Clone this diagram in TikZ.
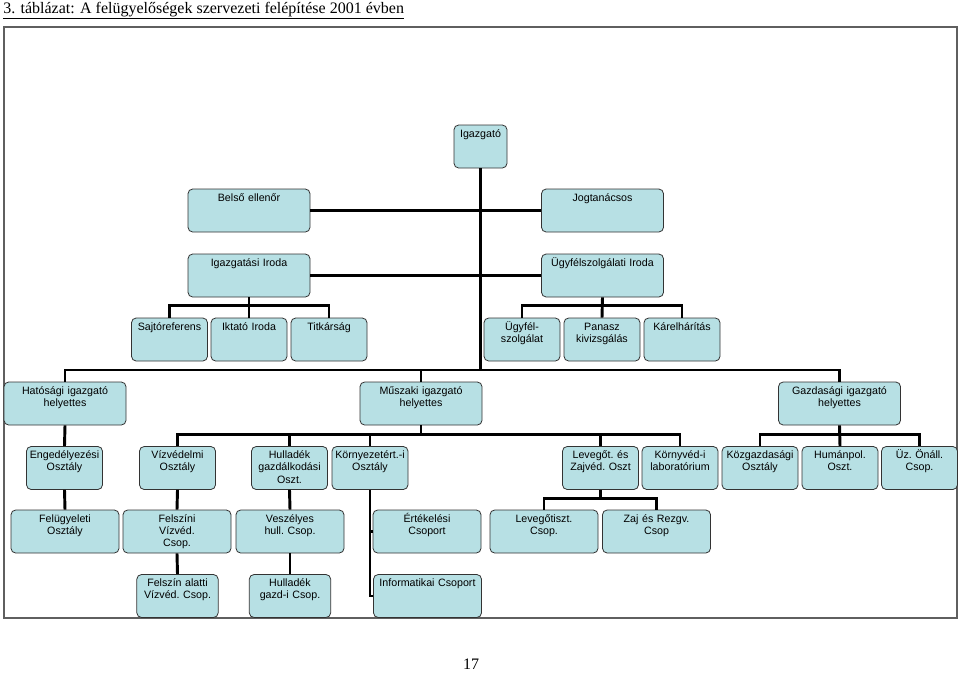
\documentclass[tikz,border=0pt]{standalone}
\usepackage{fontspec}
\setmainfont{Liberation Sans}
\newfontfamily\timesfont{Liberation Serif}
\usepackage{xcolor}
\definecolor{BoxBlue}{RGB}{183,224,228}
\definecolor{FrameGray}{RGB}{95,95,95}
\tikzset{
  unit/.style={draw=black!80, fill=BoxBlue, rounded corners=3.5pt, line width=0.6pt,
    align=center, inner xsep=1pt, inner ysep=2pt, text height=7pt, text depth=21.25pt,
    font=\fontsize{8}{9.2}\selectfont\frenchspacing},
  topbox/.style={unit, text width=37.75pt},
  widebox/.style={unit, text width=89.5pt},
  smallbox/.style={unit, text width=55pt},
  midbox/.style={unit, text width=79pt},
  subbox/.style={unit, text width=59pt},
  link/.style={line width=2.2pt}
}

\begin{document}
\begin{tikzpicture}[x=0.75pt,y=-0.75pt]
        \useasboundingbox (0,0) rectangle (960,672);

        \node[anchor=base west, inner sep=0pt, font=\timesfont\fontsize{12}{14}\selectfont] (title) at (3,13)
            {\underline{3. táblázat: A felügyelőségek szervezeti felépítése 2001 évben}};
        \draw[FrameGray, line width=1.4pt] (4,27) rectangle (957,618);

        % vezetes
        \node[topbox] (dir) at (480.5,146.5) {Igazgató};
        \node[widebox] (belso) at (249,210.5) {Belső ellenőr};
        \node[widebox] (jog) at (602.5,210.5) {Jogtanácsos};
        \node[widebox] (igiroda) at (249,275.5) {Igazgatási Iroda};
        \node[widebox] (ugyiroda) at (602.5,275.5) {Ügyfélszolgálati Iroda};

        \node[smallbox] (sajto) at (169.5,339.5) {Sajtóreferens};
        \node[smallbox] (iktato) at (249,339.5) {Iktató Iroda};
        \node[smallbox] (titkar) at (329,339.5) {Titkárság};
        \node[smallbox] (ugyfel) at (522,339.5) {Ügyfél-\\szolgálat};
        \node[smallbox] (panasz) at (602,339.5) {Panasz\\kivizsgálás};
        \node[smallbox] (karel) at (682,339.5) {Kárelhárítás};

        % helyettesek
        \node[widebox] (hat) at (65,403.5) {Hatósági igazgató\\helyettes};
        \node[widebox] (musz) at (421,403.5) {Műszaki igazgató\\helyettes};
        \node[widebox] (gazd) at (839.5,403.5) {Gazdasági igazgató\\helyettes};

        % osztalyok
        \node[smallbox] (enged) at (64.5,468) {Engedélyezési\\Osztály};
        \node[smallbox] (vizv) at (177.5,468) {Vízvédelmi\\Osztály};
        \node[smallbox] (hull) at (289.5,468) {Hulladék\\gazdálkodási\\Oszt.};
        \node[smallbox] (korny) at (370,468) {Környezetért.-i\\Osztály};
        \node[smallbox] (lev) at (600.5,468) {Levegőt. és\\Zajvéd. Oszt};
        \node[smallbox] (labor) at (680,468) {Környvéd-i\\laboratórium};
        \node[smallbox] (kozg) at (760,468) {Közgazdasági\\Osztály};
        \node[smallbox] (human) at (840,468) {Humánpol.\\Oszt.};
        \node[smallbox] (uzem) at (919.5,468) {Üz. Önáll.\\Csop.};

        % csoportok
        \node[midbox] (felug) at (65,531.5) {Felügyeleti\\Osztály};
        \node[midbox] (felsz) at (177,531.5) {Felszíni\\Vízvéd.\\Csop.};
        \node[midbox] (vesz) at (290,531.5) {Veszélyes\\hull. Csop.};
        \node[midbox] (ertek) at (427,531.5) {Értékelési\\Csoport};
        \node[midbox] (levt) at (544,531.5) {Levegőtiszt.\\Csop.};
        \node[midbox] (zaj) at (656.5,531.5) {Zaj és Rezgv.\\Csop};

        \node[subbox] (felsza) at (177.5,596) {Felszín alatti\\Vízvéd. Csop.};
        \node[subbox] (hullg) at (290,596) {Hulladék\\gazd-i Csop.};
        \node[midbox] (info) at (427.5,596) {Informatikai Csoport};

        \node[anchor=base, inner sep=0pt, font=\timesfont\fontsize{12}{14}\selectfont] (page) at (471,669) {17};

        % vonalak
        \coordinate (hub) at (480.5,370);
        \draw[link] (dir.south) -- (hub);
        \draw[link] (belso.east) -- (jog.west);
        \draw[link] (igiroda.east) -- (ugyiroda.west);
        \draw[link] (hat.north) |- (hub) -| (gazd.north);
        \draw[link] (musz.north) -- (musz.north |- hub);

        \draw[link] (sajto.north) -- ++(0,-12) -| (titkar.north);
        \draw[link] (iktato.north) -- (igiroda.south);
        \draw[link] (ugyfel.north) -- ++(0,-12) -| (karel.north);
        \draw[link] (panasz.north) -- (ugyiroda.south);

        \draw[link] (vizv.north) -- ++(0,-12) -| (labor.north);
        \foreach \n in {hull,korny,lev}
            \draw[link] (\n.north) -- ++(0,-12);
        \draw[link] (musz.south) -- ++(0,10);
        \draw[link] (kozg.north) -- ++(0,-12) -| (uzem.north);
        \draw[link] (human.north) -- (gazd.south);

        \draw[link] (hat.south) -- (enged.north);
        \draw[link] (enged.south) -- (felug.north);
        \draw[link] (vizv.south) -- (felsz.north);
        \draw[link] (felsz.south) -- (felsza.north);
        \draw[link] (hull.south) -- (vesz.north);
        \draw[link] (vesz.south) -- (hullg.north);
        \draw[link] (korny.south) |- (info.west);
        \draw[link] (korny.south |- ertek.west) -- (ertek.west);
        \draw[link] (levt.north) -- ++(0,-11) -| (zaj.north);
        \draw[link] (lev.south) -- ++(0,10);
    \end{tikzpicture}
\end{document}
